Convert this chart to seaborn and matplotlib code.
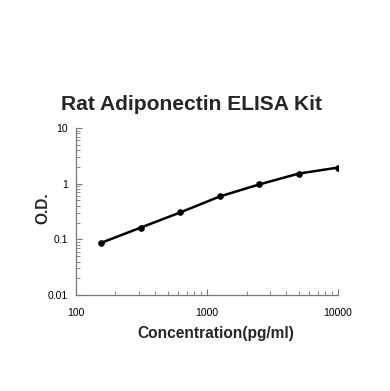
import matplotlib
matplotlib.use("Agg")
import matplotlib.pyplot as plt
import seaborn as sns
import pandas as pd
from matplotlib.ticker import LogLocator, FixedLocator, FixedFormatter, NullFormatter

concentration = [156.25, 312.5, 625, 1250, 2500, 5000, 10000]
od = [0.087, 0.163, 0.305, 0.59, 0.97, 1.52, 1.95]
x_ticks = [100, 1000, 10000]
x_labels = ["100", "1000", "10000"]
y_ticks = [0.01, 0.1, 1, 10]
y_labels = ["0.01", "0.1", "1", "10"]

sns.set_style("white")
plt.rcParams['font.family'] = ['Liberation Sans', 'DejaVu Sans']
FAM = ['Liberation Sans', 'DejaVu Sans']

df = pd.DataFrame({"conc": concentration, "od": od})

fig = plt.figure(figsize=(3.9, 3.91), dpi=100)
ax = fig.add_axes([0.195, 0.2455, 0.672, 0.427])

sns.lineplot(data=df, x="conc", y="od", ax=ax, color="black", linewidth=1.8,
             marker="o", markersize=4, markeredgecolor="black")

ax.set_xscale("log")
ax.set_yscale("log")
ax.set_xlim(100, 10000)
ax.set_ylim(0.01, 10)

ax.xaxis.set_major_locator(FixedLocator(x_ticks))
ax.xaxis.set_major_formatter(FixedFormatter(x_labels))
ax.yaxis.set_major_locator(FixedLocator(y_ticks))
ax.yaxis.set_major_formatter(FixedFormatter(y_labels))
ax.xaxis.set_minor_locator(LogLocator(base=10, subs=range(2, 10), numticks=20))
ax.yaxis.set_minor_locator(LogLocator(base=10, subs=range(2, 10), numticks=20))
ax.xaxis.set_minor_formatter(NullFormatter())
ax.yaxis.set_minor_formatter(NullFormatter())

ax.tick_params(axis="both", which="both", bottom=True, left=True)
ax.tick_params(axis="both", which="major", direction="in", length=4, width=0.8,
               colors="#777777", labelcolor="black", labelsize=7.5, pad=9)
ax.tick_params(axis="both", which="minor", direction="in", length=3, width=0.6,
               colors="#777777")
ax.tick_params(axis="y", which="major", pad=6)

for side in ["top", "right"]:
    ax.spines[side].set_visible(False)
for side in ["left", "bottom"]:
    ax.spines[side].set_color("#777777")
    ax.spines[side].set_linewidth(0.9)

ax.set_xlabel("Concentration(pg/ml)", fontsize=11.2, fontweight="bold",
              va="center", family=FAM)
ax.xaxis.set_label_coords(0.534, -0.228)
ax.set_ylabel("O.D.", fontsize=11.2, fontweight="bold", va="center", family=FAM)
ax.yaxis.set_label_coords(-0.128, 0.521)

fig.text(0.492, 0.734, "Rat Adiponectin ELISA Kit", ha="center", va="center",
         fontsize=15.1, fontweight="bold", family=FAM)

fig.savefig("out.png", dpi=100)
